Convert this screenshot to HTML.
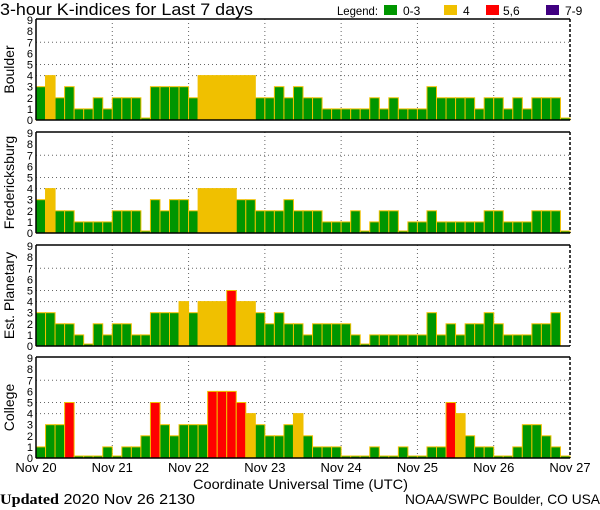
<!DOCTYPE html>
<html><head><meta charset="utf-8"><style>
html,body{margin:0;padding:0;background:#fff;}
svg{display:block;font-family:"Liberation Sans",sans-serif;}
</style></head><body>
<svg id="s" width="600" height="510" viewBox="0 0 600 510" xmlns="http://www.w3.org/2000/svg">
<text x="0" y="15" font-size="17" fill="#000" textLength="253" lengthAdjust="spacingAndGlyphs">3-hour K-indices for Last 7 days</text>
<text x="337" y="15" font-size="12" fill="#000" textLength="41" lengthAdjust="spacingAndGlyphs">Legend:</text>
<rect x="384" y="5" width="13" height="10" fill="#009600"/><text x="403" y="15" font-size="12">0-3</text>
<rect x="444" y="5" width="13" height="10" fill="#f0c000"/><text x="463" y="15" font-size="12">4</text>
<rect x="486" y="5" width="13" height="10" fill="#ff0000"/><text x="503" y="15" font-size="12">5,6</text>
<rect x="546" y="5" width="13" height="10" fill="#400080"/><text x="565" y="15" font-size="12">7-9</text>
<g id="g"></g>
<text x="193" y="489" font-size="14" textLength="215" lengthAdjust="spacingAndGlyphs">Coordinate Universal Time (UTC)</text>
<text x="0" y="504" font-size="15" textLength="195" lengthAdjust="spacingAndGlyphs"><tspan font-family="Liberation Serif,serif" font-weight="bold">Updated</tspan> 2020 Nov 26 2130</text>
<text x="600" y="504" font-size="14" text-anchor="end" textLength="195" lengthAdjust="spacingAndGlyphs">NOAA/SWPC Boulder, CO USA</text>
</svg>
<script>
var data=[
["Boulder",[3,4,2,3,1,1,2,1,2,2,2,0,3,3,3,3,2,4,4,4,4,4,4,2,2,3,2,3,2,2,1,1,1,1,1,2,1,2,1,1,1,3,2,2,2,2,1,2,2,1,2,1,2,2,2,0]],
["Fredericksburg",[3,4,2,2,1,1,1,1,2,2,2,0,3,2,3,3,2,4,4,4,4,3,3,2,2,2,3,2,2,2,1,1,1,2,0,1,2,2,0,1,1,2,1,1,1,1,1,2,2,1,1,1,2,2,2,0]],
["Est. Planetary",[3,3,2,2,1,0,2,1,2,2,1,1,3,3,3,4,3,4,4,4,5,4,4,3,2,3,2,2,1,2,2,2,2,1,0,1,1,1,1,1,1,3,1,2,1,2,2,3,2,1,1,1,2,2,3,null]],
["College",[1,3,3,5,0,0,0,1,0,1,1,2,5,3,2,3,3,3,6,6,6,5,4,3,2,2,3,4,2,1,1,1,0,0,0,1,0,0,1,0,0,1,1,5,4,2,1,1,0,0,1,3,3,2,1,0]]
];
var tops=[19,132,245,357],H=101,L=36,R=570,bw=(R-L)/56,u=H/9.1;
var h='';
data.forEach(function(d,p){
 var t=tops[p],b=t+H;
 for(var k=1;k<7;k++){var x=L+k*(R-L)/7;h+='<line x1="'+x+'" y1="'+t+'" x2="'+x+'" y2="'+b+'" stroke="#666" stroke-dasharray="1,3"/>';}
 [4,5,7].forEach(function(v){var y=b-v*u;h+='<line x1="'+L+'" y1="'+y+'" x2="'+R+'" y2="'+y+'" stroke="#666" stroke-dasharray="1,3"/>';});
 d[1].forEach(function(v,i){if(v===null)return;var x=L+i*bw;var hh=v==0?2:v*u;var c=v<=3?"#009600":v==4?"#f0c000":v<=6?"#ff0000":"#400080";
  h+='<rect x="'+x.toFixed(2)+'" y="'+(b-hh).toFixed(2)+'" width="'+bw.toFixed(2)+'" height="'+hh.toFixed(2)+'" fill="'+c+'" stroke="#f0c000" stroke-width="1"/>';});
 h+='<line x1="'+L+'" y1="'+t+'" x2="'+R+'" y2="'+t+'" stroke="#000" stroke-width="1.5"/>';
 h+='<line x1="'+L+'" y1="'+t+'" x2="'+L+'" y2="'+b+'" stroke="#000" stroke-width="1.5"/>';
 h+='<line x1="'+L+'" y1="'+b+'" x2="'+R+'" y2="'+b+'" stroke="#000" stroke-width="1.5"/>';
 h+='<line x1="'+R+'" y1="'+t+'" x2="'+R+'" y2="'+b+'" stroke="#000" stroke-width="1.5" stroke-dasharray="3,2"/>';
 for(var v=0;v<=9;v++){h+='<text x="33" y="'+(b-v*u+4).toFixed(1)+'" font-size="11" text-anchor="end">'+v+'</text>';}
 var cy=t+H/2;h+='<text x="0" y="0" font-size="14" text-anchor="middle" transform="translate(14,'+cy+') rotate(-90)">'+d[0]+'</text>';
});
var days=["Nov 20","Nov 21","Nov 22","Nov 23","Nov 24","Nov 25","Nov 26","Nov 27"];
days.forEach(function(s,k){h+='<text x="'+(L+k*(R-L)/7)+'" y="472" font-size="13" text-anchor="middle">'+s+'</text>';});
document.getElementById('g').innerHTML=h;
</script>
</body></html>
